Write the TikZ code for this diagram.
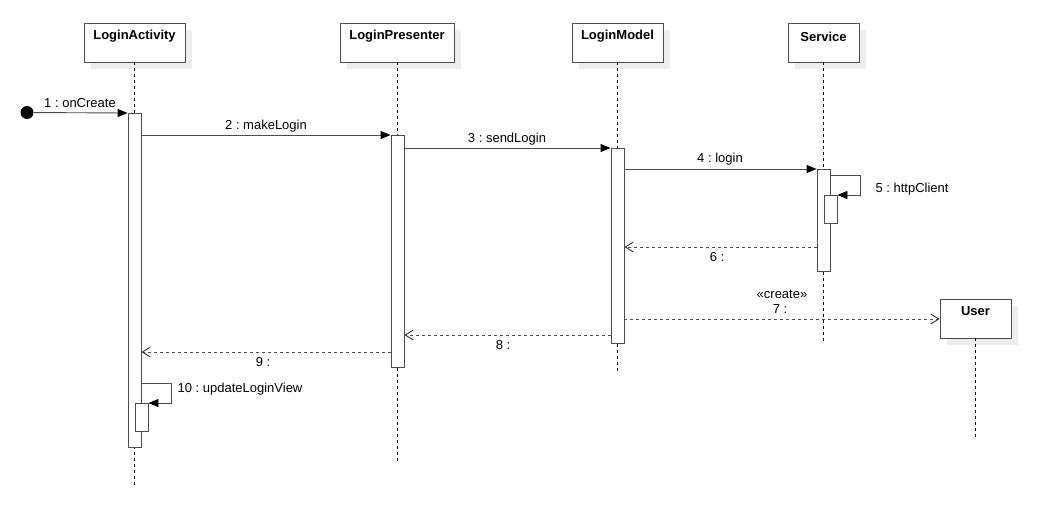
\documentclass[tikz,border=0pt]{standalone}
\usepackage{fontspec}
\setmainfont{Liberation Sans}
\usetikzlibrary{arrows.meta,calc}
\frenchspacing
\begin{document}
\begin{tikzpicture}[x=1pt,y=-1pt,
  every node/.style={font=\fontsize{13}{15}\selectfont},
  obj/.style={draw=black!70, fill=white, line width=0.9pt, rectangle, inner sep=0pt,
    preaction={fill=black!7, transform canvas={xshift=7pt,yshift=-7pt}}},
  objname/.style={font=\fontsize{13}{15}\selectfont\bfseries, inner sep=0pt},
  life/.style={draw=black, line width=0.8pt, dash pattern=on 3pt off 3pt},
  act/.style={draw=black!70, fill=white, line width=0.9pt, rectangle, inner sep=0pt, minimum width=13pt, anchor=north},
  msg/.style={draw=black!70, line width=0.9pt, -{Triangle[length=10pt,width=8pt,color=black]}},
  ret/.style={draw=black!70, line width=0.9pt, dash pattern=on 3pt off 3pt, -{Straight Barb[length=8pt,width=10pt,color=black!80]}},
  lbl/.style={inner sep=0pt}]
\fill[white] (0,0) rectangle (1049,520);
% objects
\node[obj, minimum width=101pt, minimum height=39pt] (la) at (134.5,42.5) {};
\node[objname] (lat) at ([yshift=-14pt]la.north) {LoginActivity};
\node[obj, minimum width=114pt, minimum height=39pt] (lp) at (397,42.5) {};
\node[objname] (lpt) at ([yshift=-14pt]lp.north) {LoginPresenter};
\node[obj, minimum width=91pt, minimum height=39pt] (lm) at (617.5,42.5) {};
\node[objname] (lmt) at ([yshift=-14pt]lm.north) {LoginModel};
\node[obj, minimum width=71pt, minimum height=39pt] (sv) at (823.5,42.5) {};
\node[objname] (svt) at ([yshift=-14pt]sv.north) {Service};
\node[obj, minimum width=71pt, minimum height=39pt] (us) at (975.5,318.5) {};
\node[objname] (ust) at ([yshift=-13pt]us.north) {User};
% lifeline ends
\coordinate (e1) at (0,485);
\coordinate (e2) at (0,462);
\coordinate (e3) at (0,372);
\coordinate (e4) at (0,342);
\coordinate (e5) at (0,438);
\draw[life] (la.south) -- (la.south |- e1);
\draw[life] (lp.south) -- (lp.south |- e2);
\draw[life] (lm.south) -- (lm.south |- e3);
\draw[life] (sv.south) -- (sv.south |- e4);
\draw[life] (us.south) -- (us.south |- e5);
% activations
\node[act, minimum height=334pt] (a1) at (134.5,113) {};
\node[act, minimum height=28pt] (a2) at (141.5,403) {};
\node[act, minimum height=232pt] (p1) at (397.5,135) {};
\node[act, minimum height=195pt] (m1) at (617.5,148) {};
\node[act, minimum height=102pt] (s1) at (823.5,169) {};
\node[act, minimum height=28pt] (s2) at (830.5,195) {};
% messages
\node[circle, fill=black, minimum size=13pt, inner sep=0pt] (st) at (27,112.5) {};
\draw[msg] (st) -- (a1.north west);
\node[lbl] at (80,103) {1 : onCreate};
\draw[msg] (a1.east |- p1.north) -- (p1.north west);
\node[lbl] at (266,126) {2 : makeLogin};
\draw[msg] (p1.east |- m1.north) -- (m1.north west);
\node[lbl] at (507,139) {3 : sendLogin};
\draw[msg] (m1.east |- s1.north) -- (s1.north west);
\node[lbl] at (720,159) {4 : login};
\coordinate (y5) at (0,175);
\coordinate (c5) at (860,195);
\draw[msg] (s1.east |- y5) -| (c5) -- (s2.north east);
\node[lbl] at (912,189) {5 : httpClient};
\coordinate (y6) at (0,247);
\draw[ret] (s1.west |- y6) -- (m1.east |- y6);
\node[lbl] at (717,257) {6 :};
\coordinate (y7) at (0,319);
\draw[ret] (m1.east |- y7) -- (us.west |- y7);
\node[lbl] at (782,294) {«create»};
\node[lbl] at (780,309) {7 :};
\coordinate (y8) at (0,335);
\draw[ret] (m1.west |- y8) -- (p1.east |- y8);
\node[lbl] at (503,345) {8 :};
\coordinate (y9) at (0,352);
\draw[ret] (p1.west |- y9) -- (a1.east |- y9);
\node[lbl] at (263,362) {9 :};
\coordinate (y10) at (0,383);
\coordinate (c10) at (171,403);
\draw[msg] (a1.east |- y10) -| (c10) -- (a2.north east);
\node[lbl] at (240,389) {10 : updateLoginView};
\end{tikzpicture}
\end{document}
